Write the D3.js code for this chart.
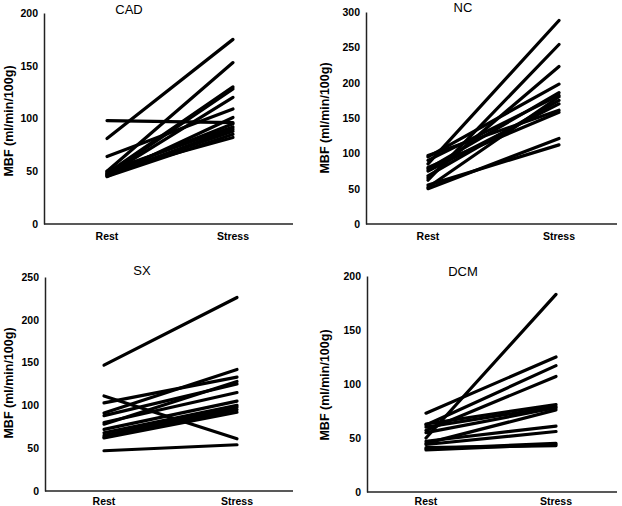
<!DOCTYPE html>
<html><head><meta charset="utf-8">
<script src="https://cdn.jsdelivr.net/npm/d3@7"></script>
<style>
html,body{margin:0;padding:0;background:#fff;}
svg{display:block;}
text{font-family:"Liberation Sans",Arial,sans-serif;}
</style></head>
<body>
<svg id="chart" width="622" height="506"></svg>
<script>
const categories = ["Rest", "Stress"];

const cadRest   = [98, 81, 64, 50, 48, 47, 46, 45, 48, 50, 46, 47, 45, 49];
const cadStress = [96, 175, 109, 153, 130, 128, 120, 101, 95, 92, 90, 88, 85, 82];
const cadTicks  = [0, 50, 100, 150, 200];

const ncRest   = [85, 62, 65, 95, 78, 90, 52, 68, 97, 80, 50, 55, 75];
const ncStress = [288, 254, 223, 198, 186, 182, 180, 175, 161, 158, 121, 112, 170];
const ncTicks  = [0, 50, 100, 150, 200, 250, 300];

const sxRest   = [147, 111, 103, 91, 88, 80, 78, 72, 65, 62, 68, 47, 63];
const sxStress = [226, 61, 133, 142, 125, 115, 128, 105, 98, 92, 100, 54, 95];
const sxTicks  = [0, 50, 100, 150, 200, 250];

const dcmRest   = [50, 73, 62, 57, 63, 60, 45, 47, 44, 40, 41, 39, 55];
const dcmStress = [183, 125, 117, 107, 81, 79, 76, 61, 56, 45, 43, 44, 78];
const dcmTicks  = [0, 50, 100, 150, 200];

const titles = ["CAD", "NC", "SX", "DCM"];
const yLabel = "MBF (ml/min/100g)";

const panels = [
  {title: titles[0], rest: cadRest, stress: cadStress, ticks: cadTicks,
   ax: 44, top: 13, bottom: 224, right: 293, rx: 107, sx: 233, tx: 129, ty: 14, lx: 13, ly: 121, cy: 240},
  {title: titles[1], rest: ncRest, stress: ncStress, ticks: ncTicks,
   ax: 366, top: 12, bottom: 224, right: 617, rx: 428, sx: 559, tx: 463, ty: 12, lx: 329, ly: 118, cy: 240},
  {title: titles[2], rest: sxRest, stress: sxStress, ticks: sxTicks,
   ax: 45, top: 277, bottom: 491, right: 293, rx: 104, sx: 237, tx: 142, ty: 275, lx: 13, ly: 383, cy: 505},
  {title: titles[3], rest: dcmRest, stress: dcmStress, ticks: dcmTicks,
   ax: 367, top: 276, bottom: 492, right: 617, rx: 426, sx: 556, tx: 463, ty: 276, lx: 329, ly: 385, cy: 505}
];

const svg = d3.select("#chart");

panels.forEach(p => {
  const g = svg.append("g");
  const maxV = p.ticks[p.ticks.length - 1];
  const y = d3.scaleLinear().domain([0, maxV]).range([p.bottom, p.top]);
  const x = d3.scalePoint().domain(categories).range([p.rx, p.sx]);

  const yAxis = d3.axisLeft(y).tickValues(p.ticks).tickSize(0).tickPadding(6);
  const ya = g.append("g").attr("transform", `translate(${p.ax},0)`).call(yAxis);
  ya.select(".domain").attr("stroke", "#222").attr("stroke-width", 1.5);
  ya.selectAll("text").attr("font-size", 10.5).attr("font-weight", "bold")
    .attr("fill", "#000").style("font-family", '"Liberation Sans",Arial,sans-serif');

  g.append("line")
    .attr("x1", p.ax).attr("x2", p.right)
    .attr("y1", p.bottom).attr("y2", p.bottom)
    .attr("stroke", "#222").attr("stroke-width", 1.5);

  g.selectAll("text.cat").data(categories).enter().append("text")
    .attr("class", "cat")
    .attr("x", d => x(d)).attr("y", p.cy)
    .attr("text-anchor", "middle")
    .attr("font-size", 10.5).attr("font-weight", "bold")
    .text(d => d);

  const pairs = p.rest.map((r, i) => [r, p.stress[i]]);
  const line = d3.line().x((d, i) => x(categories[i])).y(d => y(d));
  g.selectAll("path.pair").data(pairs).enter().append("path")
    .attr("class", "pair")
    .attr("d", d => line(d))
    .attr("fill", "none").attr("stroke", "#000")
    .attr("stroke-width", 3.2).attr("stroke-linecap", "round");

  g.append("text").attr("x", p.tx).attr("y", p.ty)
    .attr("text-anchor", "middle").attr("font-size", 13)
    .text(p.title);

  g.append("text")
    .attr("transform", `translate(${p.lx},${p.ly}) rotate(-90)`)
    .attr("text-anchor", "middle").attr("font-size", 12.5).attr("font-weight", "bold")
    .text(yLabel);
});
</script>
</body></html>
